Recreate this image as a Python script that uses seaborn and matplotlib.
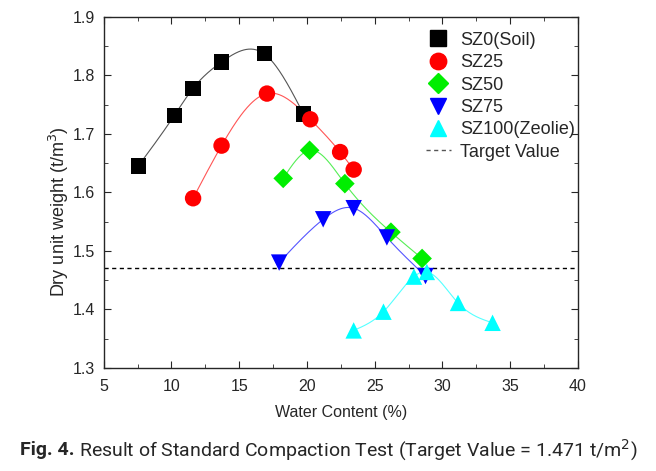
import numpy as np
import pandas as pd
import matplotlib
matplotlib.use("Agg")
import matplotlib.pyplot as plt
import seaborn as sns
from matplotlib.ticker import MultipleLocator
from matplotlib.lines import Line2D

sz0_x = [7.55, 10.2, 11.6, 13.7, 16.85, 19.75]
sz0_y = [1.645, 1.731, 1.778, 1.823, 1.837, 1.734]
sz25_x = [11.6, 13.7, 17.05, 20.25, 22.45, 23.45]
sz25_y = [1.590, 1.680, 1.769, 1.725, 1.669, 1.639]
sz50_x = [18.25, 20.2, 22.8, 26.2, 28.5]
sz50_y = [1.624, 1.672, 1.615, 1.532, 1.487]
sz75_x = [17.95, 21.2, 23.45, 25.9, 28.75]
sz75_y = [1.480, 1.554, 1.573, 1.523, 1.457]
sz100_x = [23.45, 25.65, 27.9, 28.85, 31.15, 33.7]
sz100_y = [1.364, 1.396, 1.456, 1.464, 1.411, 1.377]
labels = ["SZ0(Soil)", "SZ25", "SZ50", "SZ75", "SZ100(Zeolie)"]
target_value = 1.471

series = [(sz0_x, sz0_y), (sz25_x, sz25_y), (sz50_x, sz50_y), (sz75_x, sz75_y), (sz100_x, sz100_y)]
colors = ["#000000", "#ff0000", "#00ee00", "#0000ff", "#00ffff"]
line_colors = ["#555555", "#ff5555", "#55ee55", "#5555ff", "#55ffff"]
markers = ["s", "o", "D", "v", "^"]
msizes = [120, 140, 100, 140, 140]


def natural_spline(x, y, n=200):
    x = np.asarray(x, float); y = np.asarray(y, float)
    k = len(x)
    h = np.diff(x)
    A = np.zeros((k, k)); b = np.zeros(k)
    A[0, 0] = 1; A[-1, -1] = 1
    for i in range(1, k - 1):
        A[i, i - 1] = h[i - 1]
        A[i, i] = 2 * (h[i - 1] + h[i])
        A[i, i + 1] = h[i]
        b[i] = 3 * ((y[i + 1] - y[i]) / h[i] - (y[i] - y[i - 1]) / h[i - 1])
    c = np.linalg.solve(A, b)
    xs = np.linspace(x[0], x[-1], n)
    ys = np.empty_like(xs)
    for j, xv in enumerate(xs):
        i = min(np.searchsorted(x, xv, side="right") - 1, k - 2)
        i = max(i, 0)
        dx = xv - x[i]
        bi = (y[i + 1] - y[i]) / h[i] - h[i] * (2 * c[i] + c[i + 1]) / 3
        di = (c[i + 1] - c[i]) / (3 * h[i])
        ys[j] = y[i] + bi * dx + c[i] * dx ** 2 + di * dx ** 3
    return xs, ys


sns.set_style("ticks")
plt.rcParams["font.family"] = ["Liberation Sans", "DejaVu Sans"]

fig = plt.figure(figsize=(6.56, 4.71), dpi=100)
ax = fig.add_axes([0.158, 0.219, 0.723, 0.745])

handles = []
for (x, y), lab, c, lc, m, s in zip(series, labels, colors, line_colors, markers, msizes):
    xs, ys = natural_spline(x, y)
    sns.lineplot(x=xs, y=ys, ax=ax, color=lc, linewidth=0.8, sort=False, legend=False)
    sns.scatterplot(x=x, y=y, ax=ax, color=c, marker=m, s=s, edgecolor="none", legend=False, zorder=3)
    handles.append(Line2D([], [], linestyle="none", marker=m, color=c, markersize=np.sqrt(s), label=lab))

ax.axhline(target_value, color="black", linestyle=(0, (3, 2.5)), linewidth=1)
handles.append(Line2D([], [], color="#555555", linestyle=(0, (3, 2.5)), linewidth=1, label="Target Value"))

ax.set_xlim(5, 40)
ax.set_ylim(1.3, 1.9)
ax.xaxis.set_major_locator(MultipleLocator(5))
ax.xaxis.set_minor_locator(MultipleLocator(2.5))
ax.yaxis.set_major_locator(MultipleLocator(0.1))
ax.yaxis.set_minor_locator(MultipleLocator(0.05))
ax.tick_params(which="both", direction="in", top=True, right=True, labelsize=11.5)
ax.tick_params(which="major", length=5)
ax.tick_params(which="minor", length=3)
ax.tick_params(axis="x", pad=8)
ax.tick_params(axis="y", pad=6)
for sp in ax.spines.values():
    sp.set_linewidth(1.0)

ax.set_xlabel("Water Content (%)", fontsize=11.5, labelpad=8)
ax.set_ylabel("Dry unit weight (t/m$^3$)", fontsize=13)
ax.yaxis.set_label_coords(-0.068, 0.444)

ax.legend(handles=handles, loc="upper left", frameon=False, fontsize=13,
          handlelength=1.4, handletextpad=0.5, labelspacing=0.3,
          bbox_to_anchor=(0.679, 0.958), borderaxespad=0, borderpad=0)

fig.canvas.draw()
renderer = fig.canvas.get_renderer()
cap_font = ["Roboto", "Liberation Sans", "DejaVu Sans"]
t1 = fig.text(0.03, 0.045, "Fig. 4.", ha="left", va="center", fontsize=14, fontweight="bold", family=cap_font)
bb = t1.get_window_extent(renderer)
x2 = bb.x1 / fig.bbox.width + 0.008
fig.text(x2, 0.045, "Result of Standard Compaction Test (Target Value = 1.471 t/m$^2$)",
         ha="left", va="center", fontsize=14, family=cap_font)

fig.savefig("out.png", dpi=100)
